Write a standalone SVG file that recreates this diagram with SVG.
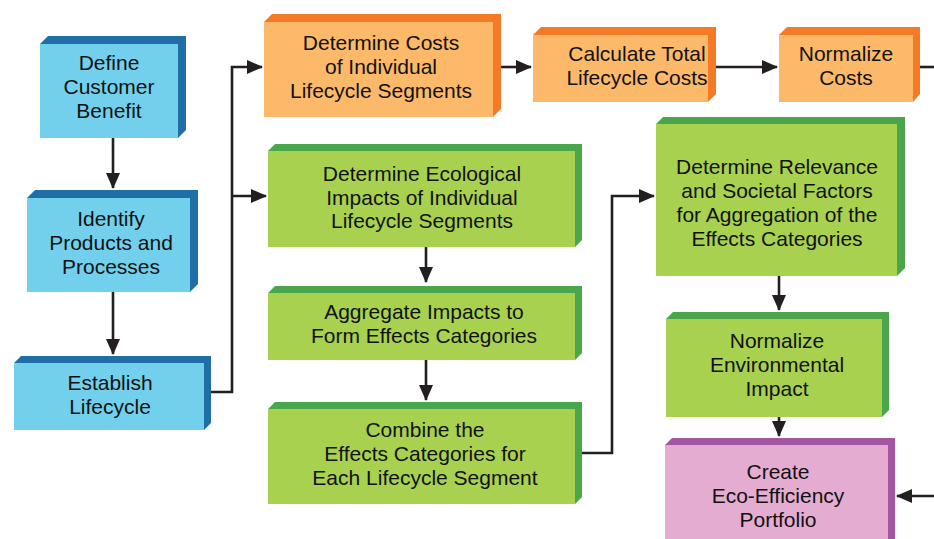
<svg xmlns="http://www.w3.org/2000/svg" width="934" height="539" viewBox="0 0 934 539">
<defs>
<style>
text{font-family:"Liberation Sans",Arial,sans-serif;font-size:21px;fill:#111;text-anchor:middle}
.c{fill:none;stroke:#231f20;stroke-width:2.6}
.bf{fill:#72d0ec}.bb{fill:#1f6fa6}
.of{fill:#fdb96a}.ob{fill:#f47a26}
.gf{fill:#a9d150}.gb{fill:#4aa64a}
.pf{fill:#e5acd1}.pb{fill:#a457a0}
</style>
<marker id="ah" markerUnits="userSpaceOnUse" markerWidth="16" markerHeight="14" refX="15" refY="7" orient="auto">
<path d="M0,0 L16,7 L0,14 Z" fill="#231f20"/>
</marker>
</defs>
<g id="connectors">
<path class="c" d="M113,138 V188" marker-end="url(#ah)"/>
<path class="c" d="M113,292 V354" marker-end="url(#ah)"/>
<path class="c" d="M211,392 H232 V67 H262" marker-end="url(#ah)"/>
<path class="c" d="M232,196 H266" marker-end="url(#ah)"/>
<path class="c" d="M501,67 H531" marker-end="url(#ah)"/>
<path class="c" d="M716,67 H777" marker-end="url(#ah)"/>
<path class="c" d="M920,67 H934"/>
<path class="c" d="M426,247 V282" marker-end="url(#ah)"/>
<path class="c" d="M426,360 V400" marker-end="url(#ah)"/>
<path class="c" d="M582,453 H612 V196 H654" marker-end="url(#ah)"/>
<path class="c" d="M779,276 V310" marker-end="url(#ah)"/>
<path class="c" d="M779,417 V436" marker-end="url(#ah)"/>
<path class="c" d="M934,496 H897" marker-end="url(#ah)"/>
</g>
<g id="n1">
<polygon class="bb" points="40,44 48,36 186,36 186,130 178,138 178,44"/>
<rect class="bf" x="40" y="44" width="138" height="94"/>
<text x="109" y="70">Define</text><text x="109" y="94">Customer</text><text x="109" y="118">Benefit</text>
</g>
<g id="n2">
<polygon class="bb" points="27,198 35,190 198,190 198,284 190,292 190,198"/>
<rect class="bf" x="27" y="198" width="163" height="94"/>
<text x="111" y="226">Identify</text><text x="111" y="250">Products and</text><text x="111" y="274">Processes</text>
</g>
<g id="n3">
<polygon class="bb" points="14,363 21,356 211,356 211,423 204,430 204,363"/>
<rect class="bf" x="14" y="363" width="190" height="67"/>
<text x="110" y="390">Establish</text><text x="110" y="414">Lifecycle</text>
</g>
<g id="o1">
<polygon class="ob" points="264,22 272,14 501,14 501,109 493,117 493,22"/>
<rect class="of" x="264" y="22" width="229" height="95"/>
<text x="381" y="50">Determine Costs</text><text x="381" y="74">of Individual</text><text x="381" y="98">Lifecycle Segments</text>
</g>
<g id="o2">
<polygon class="ob" points="533,35 541,27 716,27 716,94 708,102 708,35"/>
<rect class="of" x="533" y="35" width="175" height="67"/>
<text x="637" y="61">Calculate Total</text><text x="637" y="85">Lifecycle Costs</text>
</g>
<g id="o3">
<polygon class="ob" points="779,35 787,27 920,27 920,94 913,102 913,35"/>
<rect class="of" x="779" y="35" width="134" height="67"/>
<text x="846" y="61">Normalize</text><text x="846" y="85">Costs</text>
</g>
<g id="g1">
<polygon class="gb" points="268,151 275,144 582,144 582,240 575,247 575,151"/>
<rect class="gf" x="268" y="151" width="307" height="96"/>
<text x="422" y="181">Determine Ecological</text><text x="422" y="205">Impacts of Individual</text><text x="422" y="228">Lifecycle Segments</text>
</g>
<g id="g2">
<polygon class="gb" points="268,293 275,286 582,286 582,353 575,360 575,293"/>
<rect class="gf" x="268" y="293" width="307" height="67"/>
<text x="424" y="319">Aggregate Impacts to</text><text x="424" y="343">Form Effects Categories</text>
</g>
<g id="g3">
<polygon class="gb" points="268,409 275,402 582,402 582,497 575,504 575,409"/>
<rect class="gf" x="268" y="409" width="307" height="95"/>
<text x="425" y="437">Combine the</text><text x="425" y="461">Effects Categories for</text><text x="425" y="485">Each Lifecycle Segment</text>
</g>
<g id="g4">
<polygon class="gb" points="656,124 663,117 905,117 905,268 897,276 897,124"/>
<rect class="gf" x="656" y="124" width="241" height="152"/>
<text x="777" y="174">Determine Relevance</text><text x="777" y="198">and Societal Factors</text><text x="777" y="222">for Aggregation of the</text><text x="777" y="246">Effects Categories</text>
</g>
<g id="g5">
<polygon class="gb" points="666,319 673,312 889,312 889,410 882,417 882,319"/>
<rect class="gf" x="666" y="319" width="216" height="98"/>
<text x="777" y="348">Normalize</text><text x="777" y="372">Environmental</text><text x="777" y="396">Impact</text>
</g>
<g id="p1">
<polygon class="pb" points="665,445 672,438 895,438 895,539 888,539 888,445"/>
<rect class="pf" x="665" y="445" width="223" height="94"/>
<text x="778" y="479">Create</text><text x="778" y="503">Eco-Efficiency</text><text x="778" y="527">Portfolio</text>
</g>
</svg>
